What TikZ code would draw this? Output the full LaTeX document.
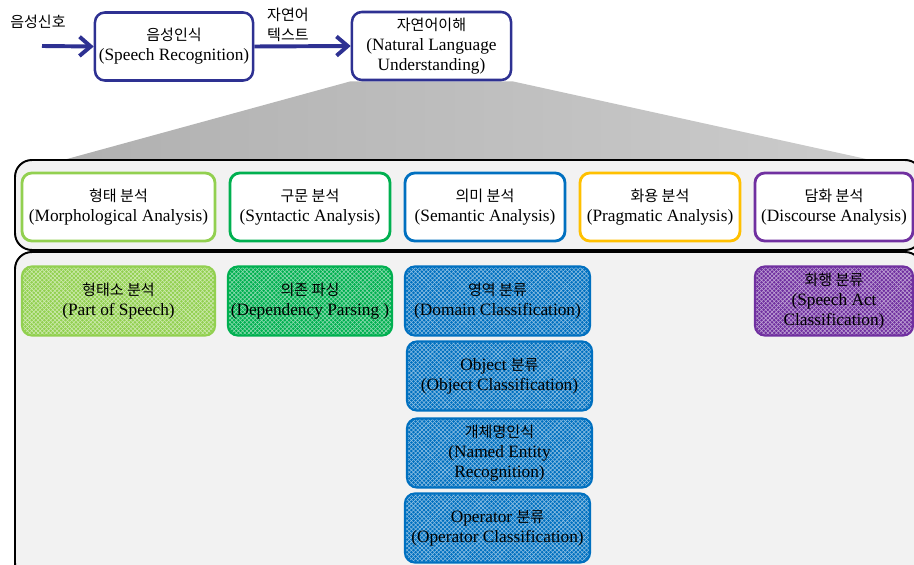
\documentclass[tikz,border=0pt]{standalone}
\usepackage{fontspec}
\setmainfont{Liberation Serif}
\newfontfamily\kr{Noto Sans CJK KR}[Scale=0.87]
\usetikzlibrary{positioning, arrows.meta, patterns, backgrounds}
\definecolor{navyblue}{HTML}{2E3192}
\definecolor{lgreen}{HTML}{92D050}
\definecolor{dgreen}{HTML}{00B050}
\definecolor{mblue}{HTML}{0070C0}
\definecolor{gold}{HTML}{FFC000}
\definecolor{violet}{HTML}{7030A0}
\definecolor{panelgray}{HTML}{F2F2F2}
\tikzset{
  stage/.style = {rectangle, draw=navyblue, line width=1.8pt,
                  rounded corners=7pt, fill=white, align=center,
                  minimum height=1.7cm, inner sep=2pt},
  level/.style = {rectangle, draw=#1, line width=2pt,
                  rounded corners=7pt, fill=white, align=center,
                  minimum height=1.7cm, inner sep=2pt},
  task/.style  = {rectangle, draw=#1, line width=1.5pt,
                  rounded corners=7pt, preaction={fill=#1},
                  pattern=crosshatch, pattern color=white!55!#1,
                  align=center, minimum height=1.725cm, inner sep=2pt},
  panel/.style = {draw=black, line width=1.4pt, rounded corners=12pt,
                  fill=panelgray},
  flowarr/.style = {-{Straight Barb[length=2.8mm, width=4.8mm, line width=2.8pt]},
                    draw=navyblue, line width=2.8pt},
}

\begin{document}
\begin{tikzpicture}[
    x=0.025cm, y=-0.025cm,
    every node/.style={font=\fontsize{12.3}{14.2}\selectfont},
    ]
    \useasboundingbox (0,0) rectangle (914,565);

    % speech input and the two stages
    \node (signal) at (38,22) {\kr 음성신호};
    \coordinate (src) at (42,46);
    \node[stage, minimum width=3.95cm] (asr) at (174,46.5)
    {{\kr 음성인식}\\(Speech Recognition)};
    \node[stage, minimum width=3.975cm] (nlu) at (431.5,46)
    {{\kr 자연어이해}\\(Natural Language\\Understanding)};
    \node[align=center] (txt) at (288,25) {{\kr 자연어}\\{\kr 텍스트}};

    \draw[flowarr] (src) -- (asr.west);
    \draw[flowarr] (asr.east) -- (nlu.west);

    % the two panels
    \draw[panel] (15,160) rectangle (922,250);
    \draw[panel] (15,252) rectangle (922,580);

    \begin{scope}[on background layer]
      \coordinate (fanl) at (56,162);
      \coordinate (fanr) at (880,162);
      \shade[left color=gray!62, right color=gray!40]
        (nlu.south west) -- (nlu.south east) -- (fanr) -- (fanl) -- cycle;
    \end{scope}

    % analysis levels
    \node[level=lgreen, minimum width=4.825cm] (morph) at (118.5,207)
    {{\kr 형태 분석}\\(Morphological Analysis)};
    \node[level=dgreen, minimum width=4.0cm] (synt) at (310,207)
    {{\kr 구문 분석}\\(Syntactic Analysis)};
    \node[level=mblue, minimum width=4.0cm] (sem) at (485,207)
    {{\kr 의미 분석}\\(Semantic Analysis)};
    \node[level=gold, minimum width=4.0cm] (prag) at (660,207)
    {{\kr 화용 분석}\\(Pragmatic Analysis)};
    \node[level=violet, minimum width=3.95cm] (disc) at (834,207)
    {{\kr 담화 분석}\\(Discourse Analysis)};

    % tasks
    \node[task=lgreen, minimum width=4.825cm] (pos) at (118.5,301)
    {{\kr 형태소 분석}\\(Part of Speech)};
    \node[task=dgreen, minimum width=4.0cm] (dep) at (310,301)
    {{\kr 의존 파싱}\\(Dependency Parsing )};
    \node[task=mblue, minimum width=4.625cm] (domain) at (497.5,301)
    {{\kr 영역 분류}\\(Domain Classification)};
    \node[task=mblue, minimum width=4.625cm] (object) at (499.5,376)
    {Object {\kr 분류}\\(Object Classification)};
    \node[task=mblue, minimum width=4.625cm] (ner) at (499.5,453)
    {{\kr 개체명인식}\\(Named Entity\\Recognition)};
    \node[task=mblue, minimum width=4.625cm] (oper) at (497.5,528)
    {Operator {\kr 분류}\\(Operator Classification)};
    \node[task=violet, minimum width=3.95cm] (act) at (834,301)
    {{\kr 화행 분류}\\(Speech Act\\Classification)};

\end{tikzpicture}
\end{document}
